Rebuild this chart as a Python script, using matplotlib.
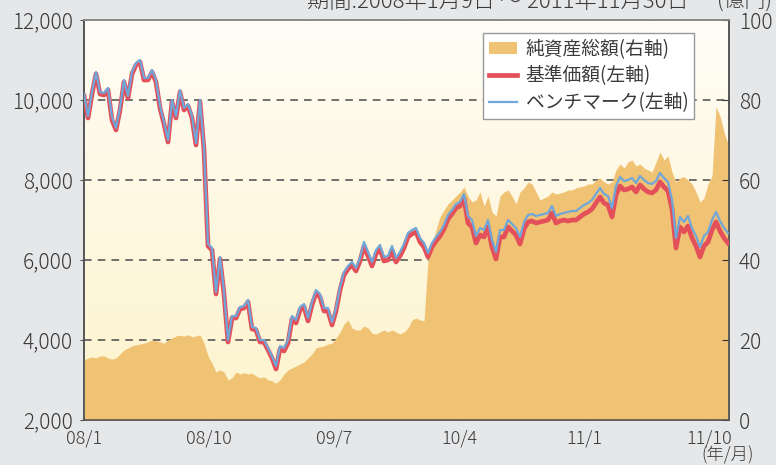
import numpy as np
import matplotlib
matplotlib.use("Agg")
import matplotlib.pyplot as plt
from matplotlib.patches import Patch
from matplotlib.lines import Line2D
from matplotlib.colors import LinearSegmentedColormap

plt.rcParams['font.family'] = ['Noto Sans CJK JP', 'DejaVu Sans']

# ---------------- data ----------------
benchmark = [10150, 9600, 10200, 10700, 10200, 10175, 10300, 9575, 9300, 9800,
             10500, 10100, 10700, 10925, 11000, 10550, 10550, 10750, 10500, 9850,
             9450, 9000, 10000, 9600, 10250, 9800, 9900, 9600, 8925, 10000,
             8800, 6400, 6300, 5200, 6075, 5200, 4000, 4600, 4600, 4825,
             4850, 5000, 4325, 4300, 4000, 4000, 3800, 3600, 3350, 3850,
             3800, 4000, 4600, 4500, 4825, 4900, 4550, 4950, 5250, 5150,
             4800, 4800, 4450, 4800, 5325, 5700, 5850, 5950, 5800, 6050,
             6450, 6200, 5950, 6250, 6375, 6075, 6100, 6350, 6050, 6200,
             6400, 6675, 6750, 6800, 6550, 6425, 6175, 6425, 6575, 6700,
             6875, 7125, 7250, 7400, 7450, 7650, 7100, 7000, 6600, 6800,
             6750, 7000, 6500, 6200, 6750, 6750, 7000, 6900, 6800, 6575,
             6950, 7125, 7150, 7100, 7125, 7150, 7175, 7350, 7100, 7150,
             7175, 7200, 7225, 7225, 7300, 7375, 7425, 7500, 7650, 7800,
             7650, 7600, 7300, 7850, 8075, 7975, 8000, 8050, 7925, 8100,
             8000, 7925, 7900, 7975, 8175, 8050, 7950, 7500, 6550, 7075,
             6950, 7100, 6800, 6600, 6325, 6600, 6700, 7000, 7200, 6975,
             6800, 6675]

nav = [10100, 9550, 10150, 10650, 10150, 10125, 10250, 9500, 9250, 9750,
       10450, 10050, 10650, 10875, 10950, 10500, 10500, 10700, 10450, 9800,
       9400, 8950, 9950, 9550, 10200, 9750, 9850, 9550, 8875, 9950,
       8750, 6350, 6250, 5150, 6025, 5150, 3950, 4550, 4550, 4775,
       4800, 4950, 4275, 4250, 3950, 3950, 3750, 3550, 3275, 3775,
       3725, 3925, 4525, 4425, 4750, 4825, 4475, 4875, 5175, 5075,
       4725, 4725, 4375, 4725, 5250, 5625, 5775, 5875, 5725, 5975,
       6350, 6100, 5850, 6150, 6275, 5975, 6000, 6250, 5950, 6100,
       6300, 6575, 6650, 6700, 6450, 6325, 6075, 6325, 6475, 6600,
       6775, 7025, 7150, 7300, 7350, 7550, 6925, 6825, 6425, 6625,
       6575, 6825, 6325, 6025, 6575, 6575, 6825, 6725, 6625, 6400,
       6775, 6950, 6975, 6925, 6950, 6975, 7000, 7175, 6925, 6975,
       7000, 6975, 7000, 7000, 7075, 7150, 7200, 7275, 7425, 7575,
       7425, 7375, 7075, 7625, 7850, 7750, 7775, 7825, 7700, 7875,
       7775, 7700, 7675, 7750, 7950, 7825, 7725, 7275, 6300, 6825,
       6700, 6850, 6550, 6350, 6075, 6350, 6450, 6750, 6950, 6725,
       6550, 6425]

net_assets = [15.0, 15.5, 15.8, 15.5, 16.0, 16.0, 15.5, 15.2, 15.5, 16.5,
              17.5, 18.0, 18.5, 18.8, 19.0, 19.2, 19.5, 20.0, 19.8, 19.5,
              19.2, 20.0, 20.5, 21.0, 21.2, 21.0, 21.3, 20.8, 21.0, 21.3,
              19.2, 16.0, 14.2, 12.0, 12.5, 12.0, 10.0, 10.5, 12.0, 11.5,
              11.8, 11.5, 11.7, 11.0, 10.5, 10.8, 10.0, 9.8, 9.2, 10.0,
              11.5, 12.5, 13.0, 13.5, 14.0, 14.5, 15.5, 16.5, 18.0, 18.3,
              18.5, 19.0, 19.2, 20.5, 22.0, 24.0, 25.0, 23.0, 22.5, 22.5,
              23.5, 23.0, 21.7, 21.5, 22.0, 22.5, 22.0, 22.5, 22.0, 21.5,
              22.0, 23.0, 25.0, 25.5, 25.0, 24.8, 40.0, 44.0, 47.5, 50.8,
              52.5, 54.0, 55.0, 56.0, 57.0, 58.3, 56.0, 54.5, 55.0, 57.0,
              53.5, 56.0, 52.0, 51.0, 56.0, 57.0, 57.5, 56.0, 54.0, 57.0,
              58.0, 59.5, 59.0, 57.0, 55.0, 55.5, 56.0, 57.0, 56.5, 56.7,
              57.0, 57.5, 57.5, 58.0, 58.3, 58.5, 59.0, 59.0, 60.0, 60.5,
              59.5, 59.0, 59.5, 62.5, 64.0, 63.0, 64.5, 65.0, 63.5, 64.0,
              63.0, 62.5, 62.0, 64.5, 67.0, 65.0, 66.0, 62.0, 59.5, 60.5,
              60.8, 60.0, 59.0, 57.0, 54.5, 55.5, 59.0, 61.0, 78.3, 76.0,
              72.0, 69.0]

month_step = 0.288          # months between samples
x_months = np.arange(len(benchmark)) * month_step

xtick_months = [0, 9, 18, 27, 36, 45]
xtick_labels = ['08/1', '08/10', '09/7', '10/4', '11/1', '11/10']
left_ticks = [2000, 4000, 6000, 8000, 10000, 12000]
left_labels = ['2,000', '4,000', '6,000', '8,000', '10,000', '12,000']
right_ticks = [0, 20, 40, 60, 80, 100]
right_labels = ['0', '20', '40', '60', '80', '100']

legend_labels = ['純資産総額(右軸)', '基準価額(左軸)', 'ベンチマーク(左軸)']

# ---------------- style ----------------
BG = '#e6e7e9'
AREA = '#f0c274'
RED = '#e4505a'
BLUE = '#6fa7da'
TXT = '#3a3a3a'
XMAX = 46.44

fig = plt.figure(figsize=(7.76, 4.65), dpi=100, facecolor=BG)
ax = fig.add_axes([84/776, 45/465, 645/776, 400/465])
ax.set_xlim(0, XMAX)
ax.set_ylim(2000, 12000)

# gradient background
cmap = LinearSegmentedColormap.from_list('bg', ['#fdf3cc', '#fffdf6'])
grad = np.linspace(0, 1, 256).reshape(-1, 1)
ax.imshow(grad, extent=[0, XMAX, 2000, 12000], origin='lower', aspect='auto',
          cmap=cmap, zorder=0, interpolation='bilinear')

ax.set_axisbelow('line')
ax.yaxis.grid(True, linestyle=(0, (5, 4)), color='#4a4a4a', linewidth=1.1)
ax.xaxis.grid(False)

ax.set_yticks(left_ticks, labels=left_labels)
ax.set_xticks(xtick_months, labels=xtick_labels)
ax.tick_params(axis='y', direction='out', length=3, pad=5, labelsize=15,
               labelcolor=TXT, color='#555')
ax.tick_params(axis='x', direction='in', length=6, pad=7, labelsize=13,
               labelcolor=TXT, color='#333')
for t in ax.get_xticklabels() + ax.get_yticklabels():
    t.set_fontweight('light')

# area on right axis
ax_r = ax.twinx()
ax_r.set_ylim(0, 100)
ax_r.set_xlim(0, XMAX)
ax_r.fill_between(x_months, 0, net_assets, color=AREA, linewidth=0)
ax_r.set_yticks(right_ticks, labels=right_labels)
ax_r.tick_params(axis='y', direction='in', length=5, pad=7, labelsize=15,
                 labelcolor=TXT, color='#333')
for t in ax_r.get_yticklabels():
    t.set_fontweight('light')

for a in (ax, ax_r):
    for s in ['left', 'bottom', 'right']:
        a.spines[s].set_color('#555')
        a.spines[s].set_linewidth(1.2)
    a.spines['top'].set_color('#8a8a8a')
    a.spines['top'].set_linewidth(1.2)

# lines on left scale, drawn above area
ax_l = ax.twinx()
ax_l.set_ylim(2000, 12000)
ax_l.set_xlim(0, XMAX)
ax_l.axis('off')
ax_l.plot(x_months, nav, color=RED, linewidth=3.4, solid_joinstyle='round')
ax_l.plot(x_months, benchmark, color=BLUE, linewidth=1.6, solid_joinstyle='round')

handles = [Patch(facecolor=AREA, edgecolor='none'),
           Line2D([], [], color=RED, linewidth=3.4),
           Line2D([], [], color=BLUE, linewidth=1.6)]
leg = ax_l.legend(handles, legend_labels, loc='upper right',
                  bbox_to_anchor=(0.9457, 0.9675), borderaxespad=0,
                  fontsize=13.5, frameon=True, fancybox=False, framealpha=1,
                  edgecolor='#999999', handlelength=1.5, handleheight=0.55,
                  handletextpad=0.45, labelspacing=0.3, borderpad=0.3)
leg.get_frame().set_linewidth(1.0)
for t in leg.get_texts():
    t.set_color(TXT)

# texts
fig.text(307/776, 1 - 8/465, '期間:2008年1月9日 ～ 2011年11月30日', fontsize=16,
         color=TXT, ha='left', va='baseline', fontweight='light')
fig.text(772/776, 1 - 8/465, '(億円)', fontsize=15, color=TXT, ha='right',
         va='baseline', fontweight='light')
fig.text(728/776, 1 - 455/465, '(年/月)', fontsize=12.5, color=TXT,
         ha='center', va='center', fontweight='light')

fig.savefig('out.png', dpi=100, facecolor=BG)
